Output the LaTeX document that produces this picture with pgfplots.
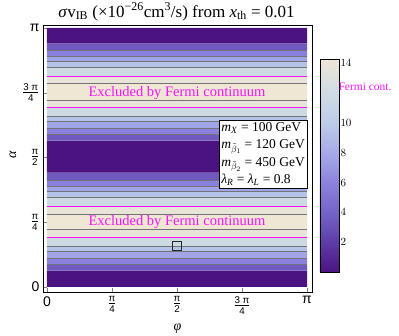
\documentclass[border=0pt]{standalone}
\usepackage{pgfplots}
\pgfplotsset{compat=1.18}
\usepackage{fontspec}
\usepackage{amsmath}
\setmainfont{Liberation Serif}
\setsansfont{Liberation Sans}
\newcommand{\tf}[2]{$\frac{\text{\sffamily #1}}{\text{\sffamily #2}}$}
\definecolor{c0}{RGB}{75,18,130}
\definecolor{c1}{RGB}{112,90,192}
\definecolor{c2}{RGB}{138,128,222}
\definecolor{c3}{RGB}{160,165,232}
\definecolor{c4}{RGB}{180,196,232}
\definecolor{c5}{RGB}{205,218,226}
\definecolor{c6}{RGB}{232,228,215}
\definecolor{c7}{RGB}{240,230,212}
\definecolor{fmag}{RGB}{245,20,245}
\definecolor{cline}{RGB}{115,115,120}
\pgfplotsset{colormap={fermi}{rgb255(0pt)=(75,20,130) rgb255(20pt)=(94,60,168) rgb255(40pt)=(116,100,200) rgb255(60pt)=(140,130,220) rgb255(80pt)=(166,170,232) rgb255(100pt)=(188,204,232) rgb255(120pt)=(206,220,228) rgb255(143pt)=(238,230,214)}}
\newcommand{\band}[3]{\addplot[draw=none, fill=#3] coordinates {(0,#1) (3.14159,#1) (3.14159,#2) (0,#2) (0,#1)};}
\newcommand{\cl}[1]{\addplot[cline, line width=0.6pt] coordinates {(0,#1) (3.14159,#1)};}
\newcommand{\ml}[1]{\addplot[fmag, line width=1.4pt] coordinates {(0,#1) (3.14159,#1)};}
\begin{document}
\begin{tikzpicture}
\path[use as bounding box] (0,0) rectangle (399pt,336pt);
\begin{axis}[
  at={(43pt,44pt)}, anchor=south west,
  width=269pt, height=267pt, scale only axis,
  xmin=-0.048, xmax=3.2016, ymin=-0.061, ymax=3.176,
  axis line style={black, line width=0.6pt},
  tick align=inside, major tick length=4pt,
  xtick pos=bottom, ytick pos=left,
  xtick={0,0.7854,1.5708,2.3562,3.14159},
  xticklabels={0,\tf{π}{4},\tf{π}{2},\tf{3 π}{4},π},
  ytick={0,0.7854,1.5708,2.3562,3.14159},
  yticklabels={0,\tf{π}{4},\tf{π}{2},\tf{3 π}{4},π},
  tick label style={font=\sffamily\fontsize{14}{14}\selectfont},
  xticklabel style={yshift=-1pt},
  yticklabel style={xshift=0pt},
  xlabel={\textit{φ}},
  every axis x label/.style={at={(axis description cs:0.5,-0.1386)}, anchor=center, font=\fontsize{14}{14}\selectfont},
  ylabel={\textit{α}},
  every axis y label/.style={at={(axis description cs:-0.1115,0.513)}, anchor=center, rotate=90, font=\fontsize{14}{14}\selectfont},
  title={\textit{σ}v\textsubscript{IB} (×10\textsuperscript{−26}cm\textsuperscript{3}/s) from \textit{x}\textsubscript{th} = 0.01},
  every axis title/.style={at={(axis description cs:0.4963,1.049)}, anchor=center, font=\fontsize{17}{17}\selectfont},
  colormap name=fermi,
  point meta min=0, point meta max=14.3,
  colorbar,
  colorbar/width=19pt,
  colorbar style={
    at={(1.0297,0.0749)}, anchor=south west,
    width=19pt, height=213pt,
    ytick={2,4,6,8,10,14},
    ytick style={draw=none},
    yticklabel style={font=\sffamily\fontsize{11}{11}\selectfont, xshift=-2pt},
    extra y ticks={12.45},
    extra y tick labels={\textcolor{fmag}{\rmfamily\fontsize{11.5}{11.5}\selectfont Fermi cont.}},
    extra y tick style={ytick style={draw=none}, yticklabel style={xshift=-2pt}},
  },
]
\band{0}{0.198}{c0}
\band{0.198}{0.275}{c1}
\band{0.275}{0.348}{c2}
\band{0.348}{0.428}{c3}
\band{0.428}{0.488}{c4}
\band{0.488}{0.602}{c5}
\band{0.602}{0.699}{c6}
\band{0.699}{0.885}{c7}
\band{0.885}{0.973}{c6}
\band{0.973}{1.082}{c5}
\band{1.082}{1.155}{c4}
\band{1.155}{1.224}{c3}
\band{1.224}{1.297}{c2}
\band{1.297}{1.385}{c1}
\band{1.385}{1.773}{c0}
\band{1.773}{1.851}{c1}
\band{1.851}{1.924}{c2}
\band{1.924}{2.004}{c3}
\band{2.004}{2.064}{c4}
\band{2.064}{2.178}{c5}
\band{2.178}{2.267}{c6}
\band{2.267}{2.469}{c7}
\band{2.469}{2.549}{c6}
\band{2.549}{2.663}{c5}
\band{2.663}{2.736}{c4}
\band{2.736}{2.800}{c3}
\band{2.800}{2.864}{c2}
\band{2.864}{2.954}{c1}
\band{2.954}{3.14159}{c0}
\cl{0.275}\cl{0.348}\cl{0.428}\cl{0.488}\cl{0.699}\cl{0.885}
\cl{1.082}\cl{1.155}\cl{1.224}\cl{1.297}
\cl{1.851}\cl{1.924}\cl{2.004}\cl{2.064}\cl{2.267}\cl{2.469}
\cl{2.663}\cl{2.736}\cl{2.800}\cl{2.864}
\ml{0.602}\ml{0.973}\ml{2.178}\ml{2.549}
\node[fmag, font=\fontsize{14.5}{14.5}\selectfont] at (axis cs:1.5708,0.785) {Excluded by Fermi continuum};
\node[fmag, font=\fontsize{14.5}{14.5}\selectfont] at (axis cs:1.5708,2.356) {Excluded by Fermi continuum};
\node[draw=black, fill=white, line width=0.5pt, anchor=north east, inner sep=2pt, align=left, font=\fontsize{13.5}{17.5}\selectfont] at (axis cs:3.14159,2.024)
{\textit{m}\textsubscript{\textit{X}} = 100 GeV\\
 \textit{m}\textsubscript{$\tilde{\beta}_1$} = 120 GeV\\
 \textit{m}\textsubscript{$\tilde{\beta}_2$} = 450 GeV\\
 \textit{λ}\textsubscript{\textit{R}} = \textit{λ}\textsubscript{\textit{L}} = 0.8};
\addplot[only marks, mark=square, mark size=4.5pt, mark options={draw=black!85, line width=1pt}] coordinates {(1.5708,0.494)};
\end{axis}
\end{tikzpicture}
\end{document}
